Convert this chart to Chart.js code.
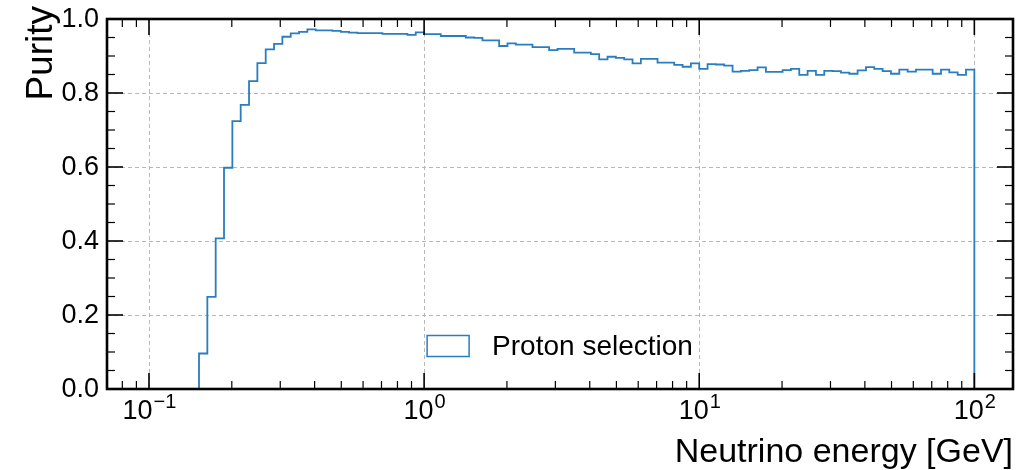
<!DOCTYPE html>
<html>
<head>
<meta charset="utf-8">
<title>Proton selection purity</title>
<script src="https://cdn.jsdelivr.net/npm/chart.js@4.4.1/dist/chart.umd.min.js"></script>
<style>
  html, body { margin: 0; padding: 0; background: #fff; }
  canvas { display: block; }
</style>
</head>
<body>
<canvas id="purityChart" width="1017" height="470"></canvas>
<script>
// Histogram binning: 99 log-spaced bins between 0.1 and 100 GeV
const binLogMin = -1;
const binLogMax = 2;
const binCount = 99;
const binEdges = Array.from({ length: binCount + 1 }, (_, i) =>
  Math.pow(10, binLogMin + ((binLogMax - binLogMin) * i) / binCount)
);

// Purity per bin (first six bins are empty)
const purity = [
  0, 0, 0, 0, 0, 0,
  0.096, 0.249, 0.407, 0.598, 0.724, 0.768, 0.832, 0.881, 0.918, 0.933,
  0.952, 0.961, 0.965, 0.972, 0.969, 0.969, 0.968, 0.965, 0.963, 0.962,
  0.962, 0.962, 0.960, 0.960, 0.960, 0.957, 0.964, 0.959, 0.959, 0.954,
  0.954, 0.954, 0.950, 0.949, 0.942, 0.942, 0.927, 0.934, 0.931, 0.931,
  0.924, 0.924, 0.916, 0.919, 0.919, 0.909, 0.909, 0.905, 0.891, 0.898,
  0.895, 0.891, 0.880, 0.892, 0.892, 0.882, 0.882, 0.876, 0.871, 0.880,
  0.865, 0.878, 0.877, 0.874, 0.858, 0.860, 0.862, 0.869, 0.857, 0.857,
  0.862, 0.865, 0.849, 0.860, 0.849, 0.860, 0.859, 0.855, 0.852, 0.861,
  0.870, 0.865, 0.859, 0.852, 0.863, 0.858, 0.863, 0.863, 0.852, 0.863,
  0.856, 0.849, 0.863
];

const seriesLabel = "Proton selection";
const xTitle = "Neutrino energy [GeV]";
const yTitle = "Purity";

// axis ticks
const xMajorTicks = [0.1, 1, 10, 100];
const xTickExponents = ["\u22121", "0", "1", "2"];
const yMajorTicks = [0, 0.2, 0.4, 0.6, 0.8, 1.0];
const yTickLabels = ["0.0", "0.2", "0.4", "0.6", "0.8", "1.0"];
const yMinorStep = 0.05;

const lineColor = "#2a7dbf";
const fontFamily = "'Liberation Sans', Arial, Helvetica, sans-serif";

// step outline: each point opens a bin, the last one closes the histogram at zero
const points = purity.map((p, i) => ({ x: binEdges[i], y: p }));
points.push({ x: binEdges[binCount], y: 0 });

// mplhep-like frame: inward ticks on all sides, dashed grid, text labels
const axisDecor = {
  id: "axisDecor",
  beforeDatasetsDraw(chart) {
    const { ctx, chartArea: a, scales } = chart;
    ctx.save();
    ctx.strokeStyle = "#b8b8b8";
    ctx.lineWidth = 1;
    ctx.setLineDash([4, 3]);
    xMajorTicks.forEach((v) => {
      const px = Math.round(scales.x.getPixelForValue(v)) + 0.5;
      ctx.beginPath();
      ctx.moveTo(px, a.top);
      ctx.lineTo(px, a.bottom);
      ctx.stroke();
    });
    yMajorTicks.slice(1, -1).forEach((v) => {
      const py = Math.round(scales.y.getPixelForValue(v)) + 0.5;
      ctx.beginPath();
      ctx.moveTo(a.left, py);
      ctx.lineTo(a.right, py);
      ctx.stroke();
    });
    ctx.restore();
  },
  afterDatasetsDraw(chart) {
    const { ctx, chartArea: a, scales } = chart;
    const xs = scales.x;
    const ys = scales.y;
    const majorLen = 16;
    const minorLen = 8;
    ctx.save();
    ctx.strokeStyle = "#000";

    // x ticks
    const xMinor = [];
    for (let e = -2; e <= 2; e++) {
      for (let m = 2; m <= 9; m++) {
        const v = m * Math.pow(10, e);
        if (v > xs.min && v < xs.max) xMinor.push(v);
      }
    }
    const tick = (x1, y1, x2, y2, w) => {
      ctx.lineWidth = w;
      ctx.beginPath();
      ctx.moveTo(x1, y1);
      ctx.lineTo(x2, y2);
      ctx.stroke();
    };
    xMinor.forEach((v) => {
      const px = xs.getPixelForValue(v);
      tick(px, a.bottom, px, a.bottom - minorLen, 1.2);
      tick(px, a.top, px, a.top + minorLen, 1.2);
    });
    xMajorTicks.forEach((v) => {
      const px = xs.getPixelForValue(v);
      tick(px, a.bottom, px, a.bottom - majorLen, 1.6);
      tick(px, a.top, px, a.top + majorLen, 1.6);
    });

    // y ticks
    for (let v = 0; v <= 1.0001; v += yMinorStep) {
      const py = ys.getPixelForValue(v);
      const isMajor = Math.abs(v / 0.2 - Math.round(v / 0.2)) < 1e-6;
      const len = isMajor ? majorLen : minorLen;
      const w = isMajor ? 1.6 : 1.2;
      tick(a.left, py, a.left + len, py, w);
      tick(a.right, py, a.right - len, py, w);
    }

    // frame
    ctx.lineWidth = 2.6;
    ctx.strokeRect(a.left, a.top, a.right - a.left, a.bottom - a.top);

    ctx.fillStyle = "#000";
    // y tick labels
    ctx.font = `27px ${fontFamily}`;
    ctx.textAlign = "right";
    ctx.textBaseline = "middle";
    yMajorTicks.forEach((v, i) => {
      ctx.fillText(yTickLabels[i], a.left - 8, ys.getPixelForValue(v) + 1);
    });

    // x tick labels as 10 with superscript exponent
    ctx.textBaseline = "alphabetic";
    ctx.textAlign = "left";
    xMajorTicks.forEach((v, i) => {
      const px = xs.getPixelForValue(v);
      ctx.font = `27px ${fontFamily}`;
      const wBase = ctx.measureText("10").width;
      ctx.font = `20px ${fontFamily}`;
      const wExp = ctx.measureText(xTickExponents[i]).width;
      const x0 = px - (wBase + wExp) / 2;
      ctx.font = `27px ${fontFamily}`;
      ctx.fillText("10", x0, a.bottom + 30);
      ctx.font = `20px ${fontFamily}`;
      ctx.fillText(xTickExponents[i], x0 + wBase + 1, a.bottom + 19);
    });

    // axis titles, both flush with the far end of their axis
    ctx.font = `34px ${fontFamily}`;
    ctx.textAlign = "right";
    ctx.fillText(xTitle, a.right, a.bottom + 73);
    ctx.save();
    ctx.font = `37px ${fontFamily}`;
    ctx.translate(a.left - 55, a.top - 13);
    ctx.rotate(-Math.PI / 2);
    ctx.textAlign = "right";
    ctx.fillText(yTitle, 0, 0);
    ctx.restore();

    // legend, lower centre, no frame
    const ds = chart.data.datasets[0];
    ctx.font = `28px ${fontFamily}`;
    const textW = ctx.measureText(ds.label).width;
    const boxW = 42;
    const boxH = 21;
    const gap = 23;
    const total = boxW + gap + textW;
    const lx = (a.left + a.right) / 2 - total / 2;
    const cy = a.bottom - 43;
    ctx.fillStyle = "#fff";
    ctx.fillRect(lx, cy - boxH / 2, boxW, boxH);
    ctx.strokeStyle = ds.borderColor;
    ctx.lineWidth = 1.5;
    ctx.strokeRect(lx, cy - boxH / 2, boxW, boxH);
    ctx.fillStyle = "#000";
    ctx.textAlign = "left";
    ctx.textBaseline = "middle";
    ctx.fillText(ds.label, lx + boxW + gap, cy + 1);

    ctx.restore();
  }
};

const ctx = document.getElementById("purityChart").getContext("2d");
new Chart(ctx, {
  type: "line",
  data: {
    datasets: [
      {
        label: seriesLabel,
        data: points,
        borderColor: lineColor,
        borderWidth: 1.8,
        stepped: "before",
        pointRadius: 0,
        fill: false
      }
    ]
  },
  options: {
    responsive: false,
    animation: false,
    devicePixelRatio: 1,
    layout: { padding: { left: 107, right: 4, top: 19, bottom: 81 } },
    scales: {
      x: { type: "logarithmic", min: 0.07037, max: 138.2, display: false },
      y: { type: "linear", min: 0, max: 1, display: false }
    },
    plugins: {
      legend: { display: false },
      tooltip: { enabled: false }
    }
  },
  plugins: [axisDecor]
});
</script>
</body>
</html>
